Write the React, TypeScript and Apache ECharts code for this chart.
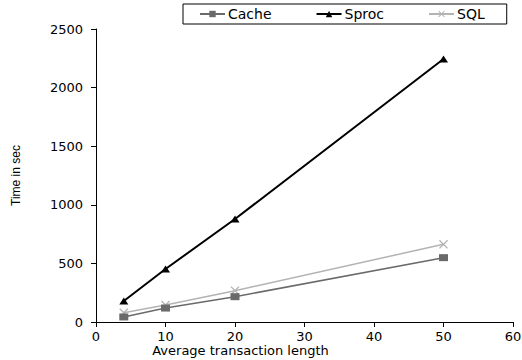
import React, { useEffect, useRef } from "react";
import * as echarts from "echarts";

const xValues = [4, 10, 20, 50];
const cacheValues = [43, 119, 216, 549];
const sprocValues = [179, 452, 879, 2244];
const sqlValues = [79, 145, 267, 663];
const seriesNames = ["Cache", "Sproc", "SQL"];

const crossPath =
  "path://M0,1L1,0L5,4L9,0L10,1L6,5L10,9L9,10L5,6L1,10L0,9L4,5Z";

const pair = (ys: number[]) => xValues.map((x, i) => [x, ys[i]]);

export default function App() {
  const ref = useRef<HTMLDivElement>(null);
  useEffect(() => {
    if (!ref.current) return;
    const chart = echarts.init(ref.current, null, { renderer: "svg" });
    const font = "DejaVu Sans";
    chart.setOption({
      animation: false,
      backgroundColor: "#fff",
      grid: { left: 96, right: 9, top: 29, bottom: 38, outerBoundsMode: "none", containLabel: false },
      legend: {
        data: seriesNames,
        left: 183,
        top: 4,
        padding: [3, 22, 3, 16],
        itemGap: 44,
        itemWidth: 25,
        itemHeight: 8,
        borderColor: "#000",
        borderWidth: 1,
        borderRadius: 0,
        textStyle: { fontFamily: font, fontSize: 14, color: "#000", padding: [0, 0, 0, -2] },
      },
      xAxis: {
        type: "value",
        min: 0,
        max: 60,
        interval: 10,
        name: "Average transaction length",
        nameLocation: "middle",
        nameGap: 21,
        nameMoveOverlap: false,
        nameTextStyle: {
          fontFamily: font,
          fontSize: 13,
          lineHeight: 14,
          color: "#000",
          padding: [0, 128, 0, 0],
        },
        axisLine: { show: true, lineStyle: { color: "#000", width: 1 } },
        axisTick: { show: true, length: 5, lineStyle: { color: "#000" } },
        axisLabel: { fontFamily: font, fontSize: 13, color: "#000", margin: 8 },
        splitLine: { show: false },
      },
      yAxis: {
        type: "value",
        min: 0,
        max: 2500,
        interval: 500,
        name: "Time in sec",
        nameLocation: "middle",
        nameGap: 74,
        nameRotate: 90,
        nameMoveOverlap: false,
        nameTextStyle: { fontFamily: "Liberation Sans Narrow, Liberation Sans", fontSize: 12, color: "#000" },
        axisLine: { show: true, lineStyle: { color: "#000", width: 1 } },
        axisTick: { show: true, length: 5, lineStyle: { color: "#000" } },
        axisLabel: {
          fontFamily: font,
          fontSize: 13,
          color: "#000",
          margin: 13,
          formatter: (v: number) => String(v),
        },
        splitLine: { show: false },
      },
      series: [
        {
          name: "Cache",
          type: "line",
          data: pair(cacheValues),
          symbol: "rect",
          symbolSize: [9, 7],
          lineStyle: { color: "#6a6a6a", width: 1.5 },
          itemStyle: { color: "#6a6a6a" },
          z: 3,
        },
        {
          name: "Sproc",
          type: "line",
          data: pair(sprocValues),
          symbol: "triangle",
          symbolSize: [9, 7],
          lineStyle: { color: "#000", width: 2 },
          itemStyle: { color: "#000" },
          z: 4,
        },
        {
          name: "SQL",
          type: "line",
          data: pair(sqlValues),
          symbol: crossPath,
          symbolSize: 9,
          lineStyle: { color: "#b3b3b3", width: 1.5 },
          itemStyle: { color: "#b3b3b3" },
          z: 2,
        },
      ],
    });
    return () => chart.dispose();
  }, []);
  return <div ref={ref} style={{ width: 522, height: 360, position: "absolute", left: 0, top: 0 }} />;
}
